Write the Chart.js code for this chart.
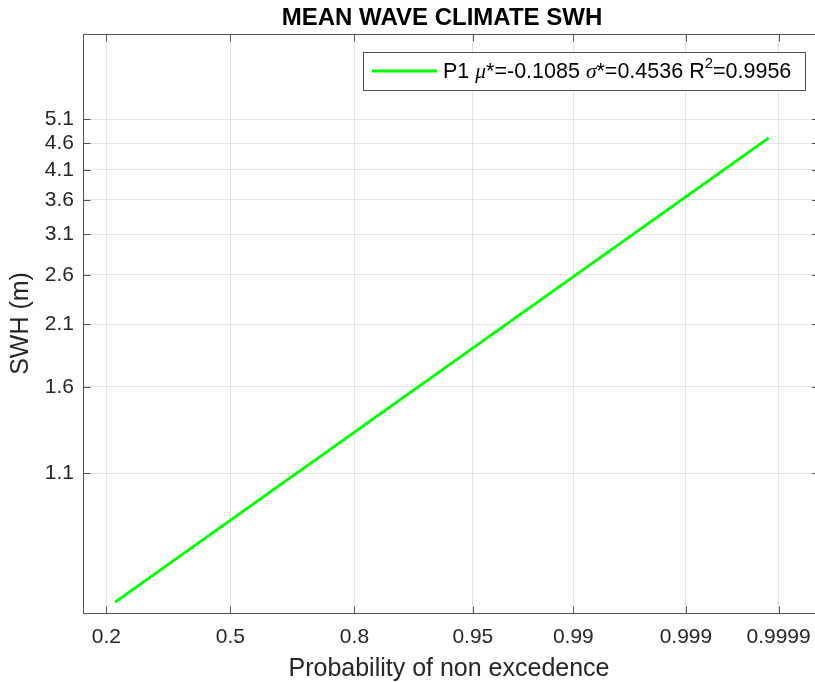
<!DOCTYPE html>
<html>
<head>
<meta charset="utf-8">
<title>Mean wave climate SWH</title>
<script src="https://cdn.jsdelivr.net/npm/chart.js@4.4.1/dist/chart.umd.min.js"></script>
<style>
  html, body { margin: 0; padding: 0; background: #fff; overflow: hidden; }
  #probPlot { display: block; }
</style>
</head>
<body>
<canvas id="probPlot" width="815" height="682"></canvas>
<script>
// probability axis ticks (non-exceedance) and their labels
var xProbs = [0.2, 0.5, 0.8, 0.95, 0.99, 0.999, 0.9999];
var xTickLabels = ['0.2', '0.5', '0.8', '0.95', '0.99', '0.999', '0.9999'];

// SWH axis ticks (log scale)
var yTicks = [1.1, 1.6, 2.1, 2.6, 3.1, 3.6, 4.1, 4.6, 5.1];
var yTickLabels = ['1.1', '1.6', '2.1', '2.6', '3.1', '3.6', '4.1', '4.6', '5.1'];

// fitted lognormal line P1, end points
var fitProb = [0.217, 0.99987];
var fitSwh = [0.629, 4.709];

var fitName = 'P1';
var fitMu = '-0.1085';
var fitSigma = '0.4536';
var fitR2 = '0.9956';

var plotTitle = 'MEAN WAVE CLIMATE SWH';

var AXIS_COLOR = '#4f4f4f';
var GRID_COLOR = '#e3e3e3';
var FONT = '"Liberation Sans", Arial, Helvetica, sans-serif';

// inverse of the standard normal CDF (Acklam), used for the probability axis
function probit(p) {
    var a = [-39.69683028665376, 220.9460984245205, -275.9285104469687, 138.3577518672690, -30.66479806614716, 2.506628277459239];
    var b = [-54.47609879822406, 161.5858368580409, -155.6989798598866, 66.80131188771972, -13.28068155288572];
    var c = [-0.007784894002430293, -0.3223964580411365, -2.400758277161838, -2.549732539343734, 4.374664141464968, 2.938163982698783];
    var d = [0.007784695709041462, 0.3224671290700398, 2.445134137142996, 3.754408661907416];
    var plow = 0.02425, q, r;
    if (p < plow) {
        q = Math.sqrt(-2 * Math.log(p));
        return (((((c[0] * q + c[1]) * q + c[2]) * q + c[3]) * q + c[4]) * q + c[5]) /
            ((((d[0] * q + d[1]) * q + d[2]) * q + d[3]) * q + 1);
    }
    if (p > 1 - plow) {
        q = Math.sqrt(-2 * Math.log(1 - p));
        return -(((((c[0] * q + c[1]) * q + c[2]) * q + c[3]) * q + c[4]) * q + c[5]) /
            ((((d[0] * q + d[1]) * q + d[2]) * q + d[3]) * q + 1);
    }
    q = p - 0.5;
    r = q * q;
    return (((((a[0] * r + a[1]) * r + a[2]) * r + a[3]) * r + a[4]) * r + a[5]) * q /
        (((((b[0] * r + b[1]) * r + b[2]) * r + b[3]) * r + b[4]) * r + 1);
}

var fitPoints = fitProb.map(function (p, i) {
    return {x: probit(p), y: fitSwh[i]};
});

// axes frame with short inward tick marks; the right side of the frame is cut
// off by the page edge, only the stubs of its ticks show. Title over the axes.
var axesBox = {
    id: 'axesBox',
    afterDatasetsDraw: function (chart) {
        var ctx = chart.ctx;
        var a = chart.chartArea;
        var xs = chart.scales.x, ys = chart.scales.y;
        var len = 7;
        var L = Math.round(a.left) + 0.5, T = Math.round(a.top) + 0.5, B = Math.round(a.bottom) + 0.5;
        ctx.save();
        ctx.strokeStyle = AXIS_COLOR;
        ctx.lineWidth = 1;
        ctx.beginPath();
        ctx.moveTo(a.right, T); ctx.lineTo(L, T); ctx.lineTo(L, B); ctx.lineTo(a.right, B);
        xProbs.forEach(function (p) {
            var px = Math.round(xs.getPixelForValue(probit(p))) + 0.5;
            ctx.moveTo(px, B); ctx.lineTo(px, B - len);
            ctx.moveTo(px, T); ctx.lineTo(px, T + len);
        });
        yTicks.forEach(function (v) {
            var py = Math.round(ys.getPixelForValue(v)) + 0.5;
            ctx.moveTo(L, py); ctx.lineTo(L + len, py);
            ctx.moveTo(a.right, py); ctx.lineTo(a.right - 3, py);
        });
        ctx.stroke();

        ctx.fillStyle = '#000';
        ctx.font = 'bold 24px ' + FONT;
        ctx.textAlign = 'center';
        ctx.textBaseline = 'middle';
        ctx.fillText(plotTitle, 442, 18);
        ctx.restore();
    }
};

// legend box in the upper right of the axes, with tex-like styled text
var fitLegend = {
    id: 'fitLegend',
    afterDraw: function (chart) {
        var ctx = chart.ctx;
        var normal = '21.5px ' + FONT;
        var greek = 'italic 21.5px "Liberation Serif", "Times New Roman", serif';
        var sup = '15px ' + FONT;
        var parts = [
            [fitName + ' ', normal, 0],
            ['\u03bc', greek, 0],
            ['*=' + fitMu + ' ', normal, 0],
            ['\u03c3', greek, 0],
            ['*=' + fitSigma + ' R', normal, 0],
            ['2', sup, -8],
            ['=' + fitR2, normal, 0]
        ];
        var boxL = 363, boxT = 52, boxR = 805, boxB = 90;
        var cy = (boxT + boxB) / 2 + 1;
        ctx.save();
        ctx.fillStyle = '#fff';
        ctx.fillRect(boxL, boxT, boxR - boxL, boxB - boxT);
        ctx.strokeStyle = AXIS_COLOR;
        ctx.lineWidth = 1;
        ctx.strokeRect(boxL + 0.5, boxT + 0.5, boxR - boxL, boxB - boxT);
        ctx.strokeStyle = '#00ff00';
        ctx.lineWidth = 3;
        ctx.beginPath();
        ctx.moveTo(372, cy - 1);
        ctx.lineTo(437, cy - 1);
        ctx.stroke();
        ctx.fillStyle = '#000';
        ctx.textBaseline = 'middle';
        var x = 443;
        parts.forEach(function (seg) {
            ctx.font = seg[1];
            ctx.fillText(seg[0], x, cy + seg[2]);
            x += ctx.measureText(seg[0]).width;
        });
        ctx.restore();
    }
};

new Chart(document.getElementById('probPlot'), {
    type: 'line',
    data: {
        datasets: [{
            label: fitName,
            data: fitPoints,
            borderColor: '#00ff00',
            borderWidth: 3,
            pointRadius: 0,
            fill: false,
            tension: 0
        }]
    },
    options: {
        responsive: false,
        animation: false,
        layout: {padding: {left: 0, right: 0, top: 34, bottom: 0}},
        plugins: {
            legend: {display: false},
            tooltip: {enabled: false},
            title: {display: false}
        },
        scales: {
            x: {
                type: 'linear',
                min: -1,
                // the axes run to z = 4, a few pixels past the page edge
                max: 3.966,
                afterBuildTicks: function (scale) {
                    scale.ticks = xProbs.map(function (p) { return {value: probit(p)}; });
                },
                afterFit: function (scale) {
                    scale.height = 69;
                    scale.paddingLeft = 0;
                    scale.paddingRight = 0;
                },
                ticks: {
                    color: '#262626',
                    font: {family: FONT, size: 21},
                    padding: 12,
                    maxRotation: 0,
                    autoSkip: false,
                    callback: function (v, i) { return xTickLabels[i]; }
                },
                grid: {color: GRID_COLOR, drawTicks: false},
                border: {display: false},
                title: {
                    display: true,
                    text: 'Probability of non excedence',
                    color: '#262626',
                    font: {family: FONT, size: 25, lineHeight: 1.0},
                    padding: {top: 0, bottom: 0}
                }
            },
            y: {
                type: 'logarithmic',
                min: Math.exp(-0.5),
                max: Math.exp(2),
                afterBuildTicks: function (scale) {
                    scale.ticks = yTicks.map(function (v) { return {value: v}; });
                },
                afterFit: function (scale) {
                    scale.width = 83;
                    scale.paddingTop = 0;
                    scale.paddingBottom = 0;
                },
                ticks: {
                    color: '#262626',
                    font: {family: FONT, size: 21},
                    padding: 9,
                    autoSkip: false,
                    callback: function (v, i) { return yTickLabels[i]; }
                },
                grid: {color: GRID_COLOR, drawTicks: false},
                border: {display: false},
                title: {
                    display: true,
                    text: 'SWH (m)',
                    color: '#262626',
                    font: {family: FONT, size: 25},
                    padding: {top: 6, bottom: 0}
                }
            }
        }
    },
    plugins: [axesBox, fitLegend]
});
</script>
</body>
</html>
